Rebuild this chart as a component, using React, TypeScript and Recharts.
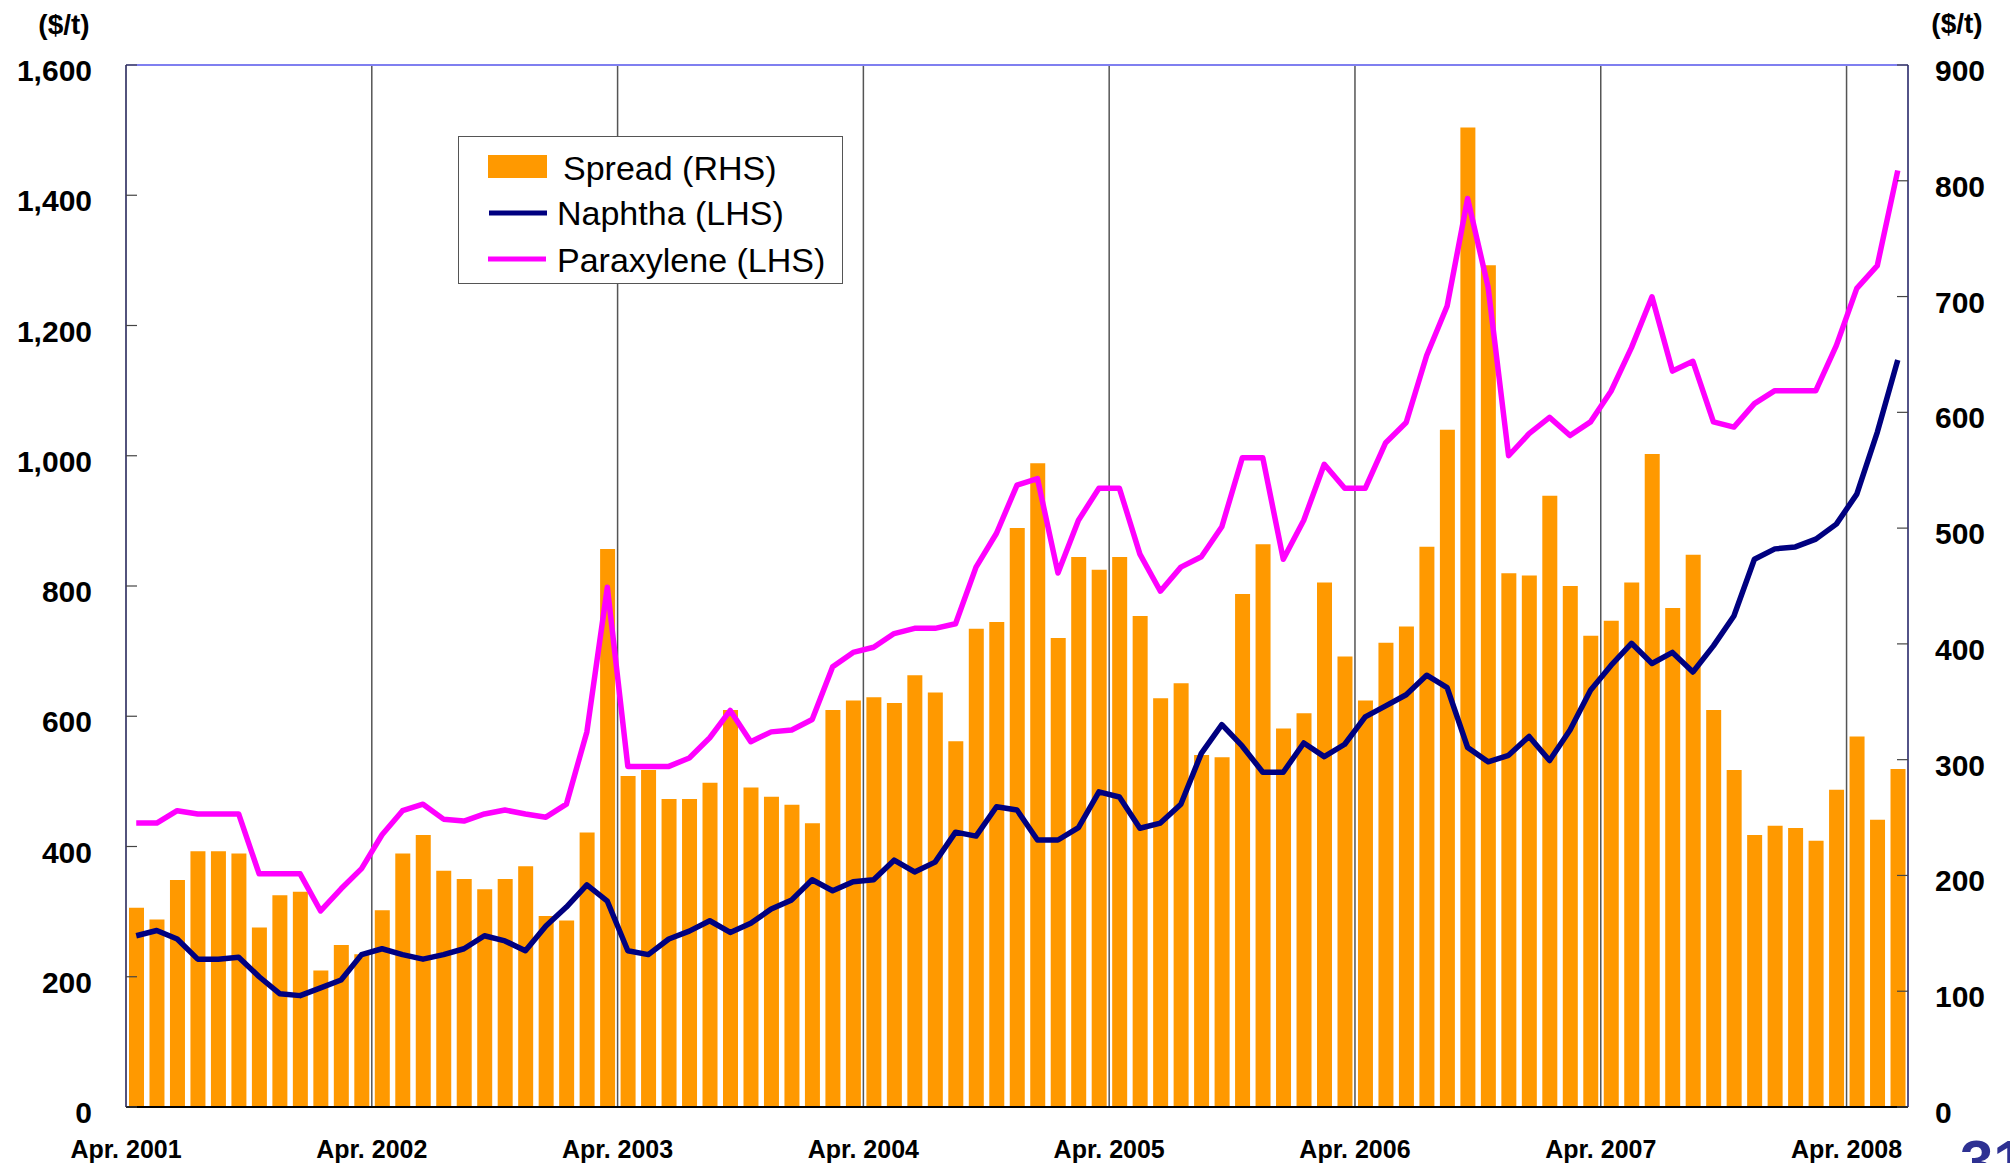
import React from 'react';
import { ComposedChart, Bar, Line, XAxis, YAxis, ReferenceLine } from 'recharts';

// monthly, Apr. 2001 - Jun. 2008
const months = [
  'Apr. 2001', 'May 2001', 'Jun. 2001', 'Jul. 2001', 'Aug. 2001', 'Sep. 2001', 'Oct. 2001', 'Nov. 2001', 'Dec. 2001', 'Jan. 2002', 'Feb. 2002', 'Mar. 2002',
  'Apr. 2002', 'May 2002', 'Jun. 2002', 'Jul. 2002', 'Aug. 2002', 'Sep. 2002', 'Oct. 2002', 'Nov. 2002', 'Dec. 2002', 'Jan. 2003', 'Feb. 2003', 'Mar. 2003',
  'Apr. 2003', 'May 2003', 'Jun. 2003', 'Jul. 2003', 'Aug. 2003', 'Sep. 2003', 'Oct. 2003', 'Nov. 2003', 'Dec. 2003', 'Jan. 2004', 'Feb. 2004', 'Mar. 2004',
  'Apr. 2004', 'May 2004', 'Jun. 2004', 'Jul. 2004', 'Aug. 2004', 'Sep. 2004', 'Oct. 2004', 'Nov. 2004', 'Dec. 2004', 'Jan. 2005', 'Feb. 2005', 'Mar. 2005',
  'Apr. 2005', 'May 2005', 'Jun. 2005', 'Jul. 2005', 'Aug. 2005', 'Sep. 2005', 'Oct. 2005', 'Nov. 2005', 'Dec. 2005', 'Jan. 2006', 'Feb. 2006', 'Mar. 2006',
  'Apr. 2006', 'May 2006', 'Jun. 2006', 'Jul. 2006', 'Aug. 2006', 'Sep. 2006', 'Oct. 2006', 'Nov. 2006', 'Dec. 2006', 'Jan. 2007', 'Feb. 2007', 'Mar. 2007',
  'Apr. 2007', 'May 2007', 'Jun. 2007', 'Jul. 2007', 'Aug. 2007', 'Sep. 2007', 'Oct. 2007', 'Nov. 2007', 'Dec. 2007', 'Jan. 2008', 'Feb. 2008', 'Mar. 2008',
  'Apr. 2008', 'May 2008', 'Jun. 2008',
];

// Spread (RHS), $/t
const spread = [
  172, 162, 196, 221, 221, 219, 155, 183, 186, 118, 140, 132,
  170, 219, 235, 204, 197, 188, 197, 208, 165, 161, 237, 482,
  286, 291, 266, 266, 280, 343, 276, 268, 261, 245, 343, 351,
  354, 349, 373, 358, 316, 413, 419, 500, 556, 405, 475, 464,
  475, 424, 353, 366, 304, 302, 443, 486, 327, 340, 453, 389,
  351, 401, 415, 484, 585, 846, 727, 461, 459, 528, 450, 407,
  420, 453, 564, 431, 477, 343, 291, 235, 243, 241, 230, 274,
  320, 248, 292,
];

// Naphtha (LHS), $/t
const naphtha = [
  263, 271, 258, 227, 227, 230, 200, 174, 171, 183, 195, 234,
  243, 234, 227, 234, 243, 263, 255, 240, 278, 307, 341, 316,
  240, 234, 258, 270, 286, 268, 282, 304, 318, 349, 332, 346,
  349, 379, 361, 376, 422, 416, 461, 456, 410, 410, 429, 484,
  476, 428, 436, 465, 543, 587, 554, 514, 514, 559, 538, 557,
  599, 616, 633, 663, 644, 552, 530, 540, 569, 532, 579, 640,
  678, 712, 681, 698, 668, 708, 754, 841, 857, 860, 872, 895,
  941, 1036, 1147,
];

// Paraxylene (LHS), $/t
const paraxylene = [
  436, 436, 455, 450, 450, 450, 358, 358, 358, 301, 335, 366,
  418, 455, 465, 442, 439, 450, 456, 450, 445, 465, 576, 798,
  523, 523, 523, 536, 567, 609, 561, 576, 579, 595, 676, 698,
  706, 727, 735, 735, 742, 829, 881, 955, 965, 820, 901, 950,
  950, 849, 792, 829, 845, 891, 997, 997, 841, 901, 987, 950,
  950, 1020, 1051, 1154, 1230, 1395, 1259, 1000, 1034, 1059, 1031, 1052,
  1099, 1166, 1244, 1130, 1145, 1052, 1044, 1080, 1100, 1100, 1100, 1169,
  1257, 1292, 1438,
];

const yearStarts = ['Apr. 2002', 'Apr. 2003', 'Apr. 2004', 'Apr. 2005', 'Apr. 2006', 'Apr. 2007', 'Apr. 2008'];
const leftTicks = [0, 200, 400, 600, 800, 1000, 1200, 1400, 1600];
const rightTicks = [0, 100, 200, 300, 400, 500, 600, 700, 800, 900];

const data = months.map((month, i) => ({
  month,
  spread: spread[i],
  naphtha: naphtha[i],
  paraxylene: paraxylene[i],
}));

const W = 2010;
const H = 1163;
const LEFT_W = 126;
const RIGHT_W = 102;
const TOP = 65;
const X_H = 56;
const BAND = (W - LEFT_W - RIGHT_W) / months.length;

const FONT = '"Liberation Sans", Arial, Helvetica, sans-serif';
const ORANGE = '#FF9900';
const NAVY = '#000080';
const MAGENTA = '#FF00FF';

const LeftTick = (props: any) => {
  const { x, y, payload } = props;
  return (
    <g>
      <line x1={x} x2={x + 11} y1={y} y2={y} stroke="#444" strokeWidth={1.2} />
      <text x={x - 34} y={y + 16} textAnchor="end" fontFamily={FONT} fontWeight="bold" fontSize={30} fill="#000">
        {Number(payload.value).toLocaleString('en-US')}
      </text>
    </g>
  );
};

const RightTick = (props: any) => {
  const { x, y, payload } = props;
  return (
    <g>
      <line x1={x - 11} x2={x} y1={y} y2={y} stroke="#444" strokeWidth={1.2} />
      <text x={x + 27} y={y + 16} textAnchor="start" fontFamily={FONT} fontWeight="bold" fontSize={30} fill="#000">
        {payload.value}
      </text>
    </g>
  );
};

const MonthTick = (props: any) => {
  const { x, y, payload } = props;
  if (!String(payload.value).startsWith('Apr.')) return <g />;
  return (
    <text x={x - BAND / 2} y={y + 51} textAnchor="middle" fontFamily={FONT} fontWeight="bold" fontSize={25} fill="#000">
      {payload.value}
    </text>
  );
};

export default function App() {
  return (
    <div style={{ position: 'absolute', left: 0, top: 0, width: W, height: H, overflow: 'hidden', background: '#fff' }}>
      <ComposedChart width={W} height={H} data={data} margin={{ top: TOP, right: 0, bottom: 0, left: 0 }}>
        {yearStarts.map((m) => (
          <ReferenceLine key={m} x={m} yAxisId="left" position="start" stroke="#555" strokeWidth={1.5} />
        ))}
        <XAxis
          dataKey="month"
          height={X_H}
          interval={0}
          tickSize={0}
          tickMargin={0}
          tickLine={false}
          axisLine={{ stroke: '#000', strokeWidth: 2 }}
          tick={<MonthTick />}
        />
        <YAxis
          yAxisId="left"
          width={LEFT_W}
          domain={[0, 1600]}
          ticks={leftTicks}
          interval={0}
          tickSize={0}
          tickMargin={0}
          tickLine={false}
          axisLine={{ stroke: '#1a1a50', strokeWidth: 1.5 }}
          tick={<LeftTick />}
        />
        <YAxis
          yAxisId="right"
          orientation="right"
          width={RIGHT_W}
          domain={[0, 900]}
          ticks={rightTicks}
          interval={0}
          tickSize={0}
          tickMargin={0}
          tickLine={false}
          axisLine={{ stroke: '#1a1a60', strokeWidth: 1.5 }}
          tick={<RightTick />}
        />
        <ReferenceLine y={1600} yAxisId="left" stroke="#7f7ff0" strokeWidth={2} />
        <Bar dataKey="spread" yAxisId="right" fill={ORANGE} barSize={15} isAnimationActive={false} />
        <Line
          dataKey="naphtha"
          yAxisId="left"
          type="linear"
          stroke={NAVY}
          strokeWidth={5.5}
          strokeLinejoin="round"
          dot={false}
          activeDot={false}
          isAnimationActive={false}
        />
        <Line
          dataKey="paraxylene"
          yAxisId="left"
          type="linear"
          stroke={MAGENTA}
          strokeWidth={5.5}
          strokeLinejoin="round"
          dot={false}
          activeDot={false}
          isAnimationActive={false}
        />
      </ComposedChart>

      {/* legend, unit labels, page number */}
      <svg width={W} height={H} style={{ position: 'absolute', left: 0, top: 0, pointerEvents: 'none' }}>
        <text x={64} y={34} textAnchor="middle" fontFamily={FONT} fontWeight="bold" fontSize={28}>($/t)</text>
        <text x={1957} y={33} textAnchor="middle" fontFamily={FONT} fontWeight="bold" fontSize={28}>($/t)</text>

        <rect x={458.5} y={136.5} width={384} height={147} fill="#fff" stroke="#555" strokeWidth={1} />
        <rect x={488} y={155} width={59} height={23} fill={ORANGE} />
        <text x={563} y={180} fontFamily={FONT} fontSize={34}>Spread (RHS)</text>
        <line x1={489} x2={547} y1={213} y2={213} stroke={NAVY} strokeWidth={5} />
        <text x={557} y={225} fontFamily={FONT} fontSize={34}>Naphtha (LHS)</text>
        <line x1={488} x2={546} y1={259} y2={259} stroke={MAGENTA} strokeWidth={5} />
        <text x={557} y={272} fontFamily={FONT} fontSize={34}>Paraxylene (LHS)</text>

        <text x={1960} y={1182} fontFamily={FONT} fontWeight="bold" fontSize={60} fill="#2E3192">31</text>
      </svg>
    </div>
  );
}
